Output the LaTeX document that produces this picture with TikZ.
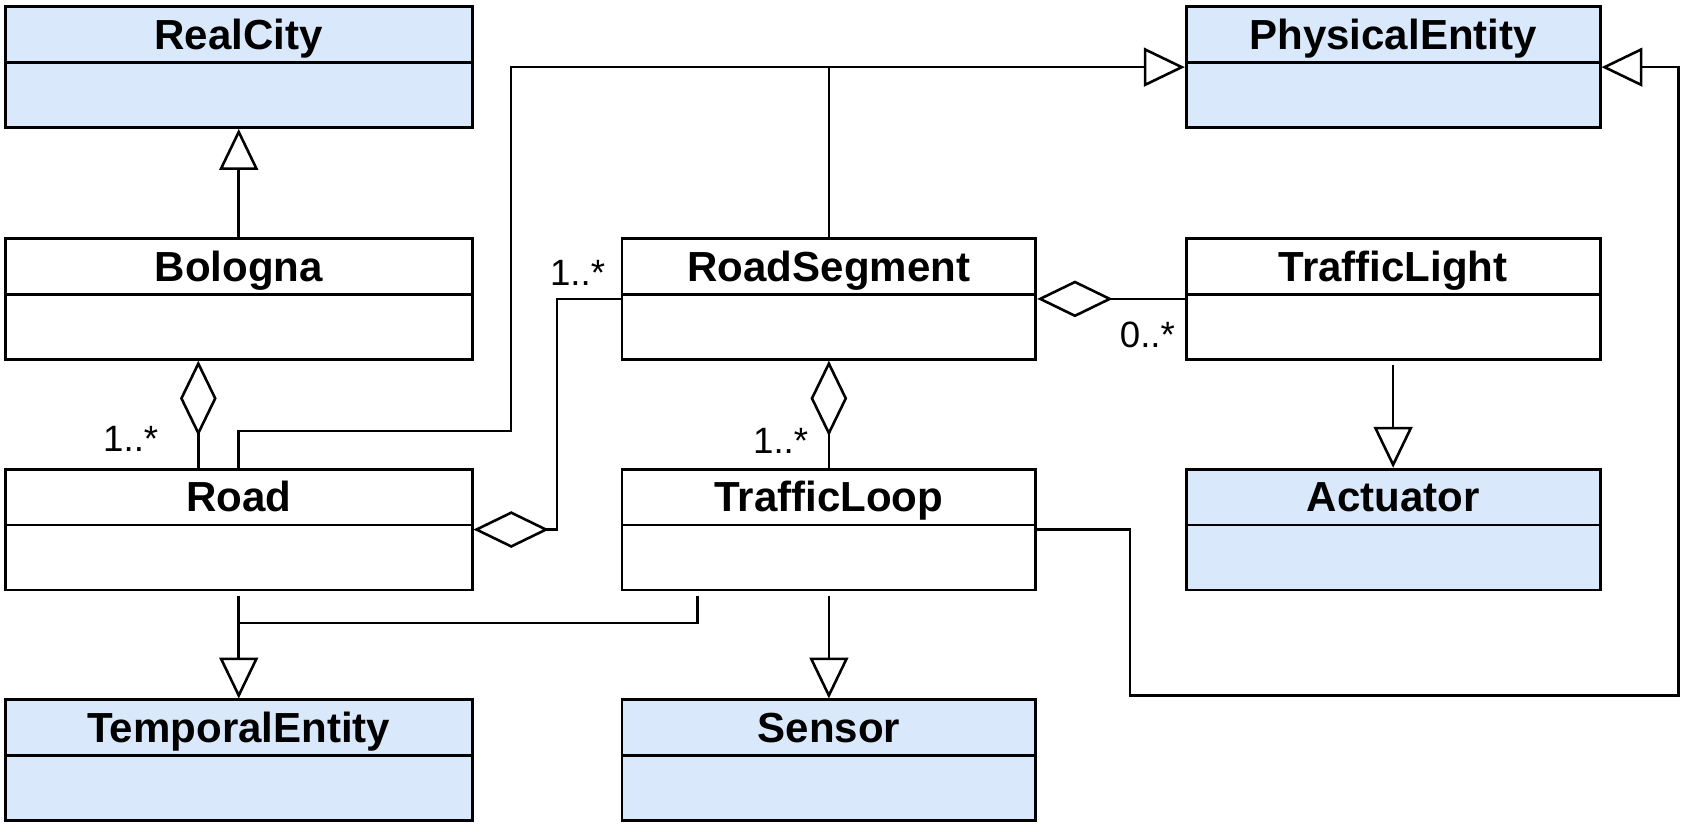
\documentclass[tikz,border=0pt]{standalone}
\usepackage{fontspec}
\setmainfont{Liberation Sans}
\usetikzlibrary{arrows.meta}
\definecolor{entityblue}{HTML}{DAE8FC}

\begin{document}
\begin{tikzpicture}[x=0.5pt,y=-0.5pt,
    classbox/.style={draw, line width=1.3pt, minimum height=56pt, inner sep=0pt, anchor=north},
    classname/.style={anchor=base, font=\bfseries\fontsize{19.5pt}{21pt}\selectfont},
    mult/.style={font=\fontsize{17pt}{19pt}\selectfont, inner sep=2pt},
    link/.style={line width=1.2pt},
    inherit/.style={link, -{Triangle[open, length=19pt, width=18pt, line width=1.2pt]}},
    aggr/.style={link, -{Diamond[open, length=35pt, width=17pt, line width=1.2pt]}}]
  \useasboundingbox (0,0) rectangle (1567,771);

  \foreach \cname/\cx/\cy/\bw/\fc in {RealCity/221.5/5/216.5pt/entityblue, Bologna/221.5/220/216.5pt/white,
      Road/221.5/434/216.5pt/white, TemporalEntity/221.5/648/216.5pt/entityblue,
      RoadSegment/769/220/192pt/white, TrafficLoop/769/434/192pt/white, Sensor/769/648/192pt/entityblue,
      PhysicalEntity/1292.5/5/192pt/entityblue, TrafficLight/1292.5/220/192pt/white,
      Actuator/1292.5/434/192pt/entityblue} {   %each class box with its name compartment
    \node[classbox, fill=\fc, minimum width=\bw] (\cname) at (\cx,\cy) {};
    \draw[line width=1.3pt] ([yshift=-26.5pt]\cname.north west) -- ([yshift=-26.5pt]\cname.north east);
    \node[classname] at ([yshift=-20.5pt]\cname.north) {\cname};
  }

  % generalisations
  \draw[inherit] (Bologna.north) -- (RealCity.south);
  \draw[inherit] (Road.north) -- (Road.north |- 0,400) -| (474,0 |- PhysicalEntity.west) -- (PhysicalEntity.west);
  \draw[link] (RoadSegment.north) -- (RoadSegment.north |- PhysicalEntity.west);
  \draw[inherit] ([yshift=-2pt]TrafficLight.south) -- (Actuator.north);
  \draw[inherit] ([yshift=-2pt]TrafficLoop.south) -- (Sensor.north);
  \draw[inherit] ([yshift=-2pt]Road.south) -- (TemporalEntity.north);
  \draw[link] ([xshift=-61pt,yshift=-2pt]TrafficLoop.south) |- (Road.south |- 0,578);
  \draw[inherit] (TrafficLoop.east) -- ++(86,0) |- (1557,645) |- (PhysicalEntity.east);

  % aggregations
  \draw[aggr] ([xshift=-18.75pt]Road.north) -- ([xshift=-18.75pt]Bologna.south)
    node[mult, pos=0, anchor=south east, xshift=-16pt, yshift=5pt] {1..*};
  \draw[aggr] (RoadSegment.west) -- ++(-59,0) |- (Road.east);
  \node[mult, anchor=south east] at ([xshift=-5pt,yshift=4pt]RoadSegment.west) {1..*};
  \draw[aggr] (TrafficLight.west) -- (RoadSegment.east)
    node[mult, pos=0, anchor=north east, xshift=-2pt, yshift=-8pt] {0..*};
  \draw[aggr] (TrafficLoop.north) -- (RoadSegment.south)
    node[mult, pos=0, anchor=south east, xshift=-7pt, yshift=4pt] {1..*};
\end{tikzpicture}
\end{document}
